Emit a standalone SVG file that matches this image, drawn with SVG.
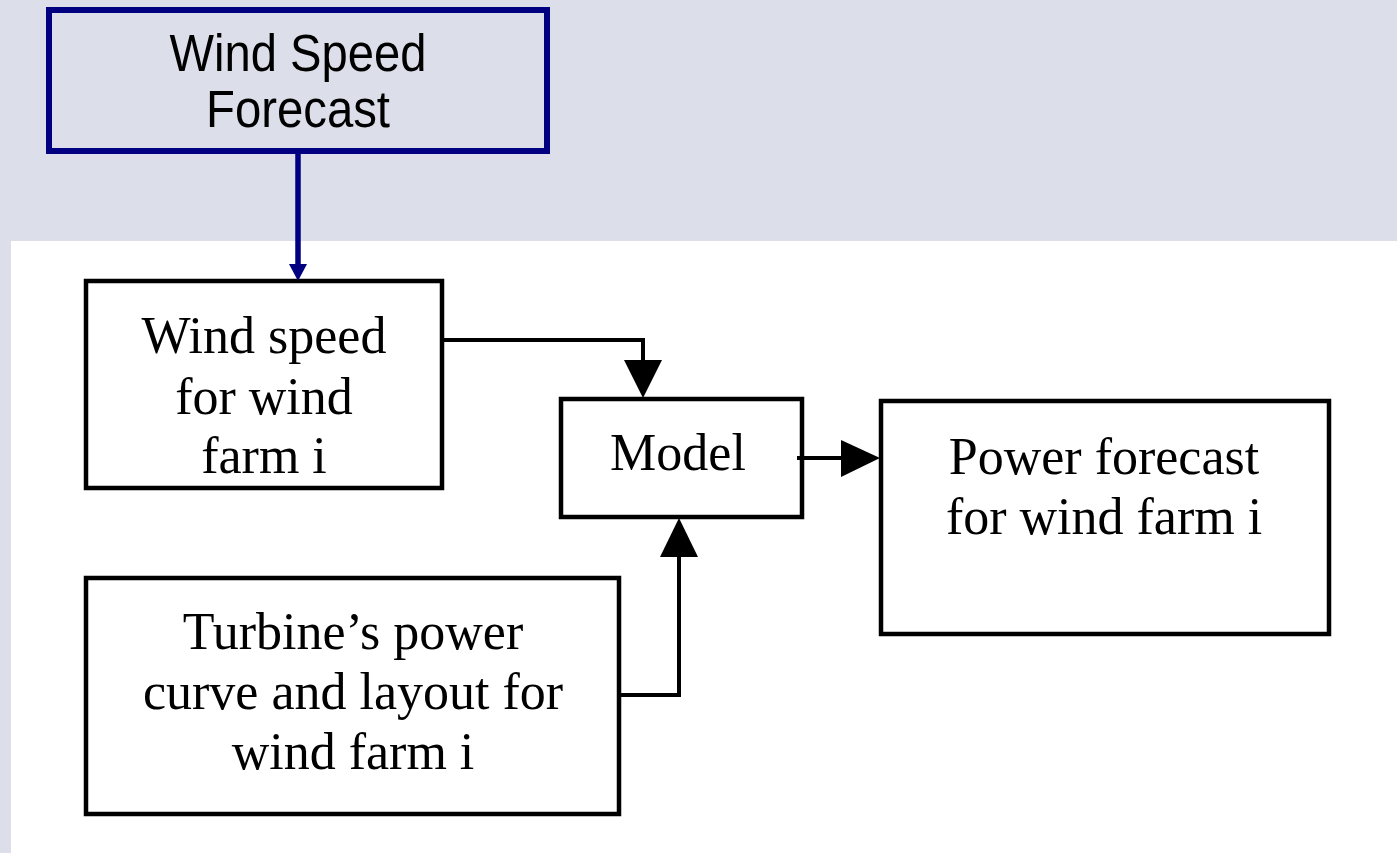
<svg xmlns="http://www.w3.org/2000/svg" width="1397" height="853" viewBox="0 0 1397 853">
<style>
.box{fill:none;stroke:#000;stroke-width:4.5}
.nbox{fill:none;stroke:#000080;stroke-width:6}
.t{font-family:"Liberation Serif","Times New Roman",serif;font-size:52px;fill:#000;text-anchor:middle}
.s{font-family:"Liberation Sans",Arial,sans-serif;font-size:51px;fill:#000;text-anchor:middle}
.c{fill:none;stroke:#000;stroke-width:4}
.nc{fill:none;stroke:#000080;stroke-width:5.5}
</style>
<rect x="0" y="0" width="1397" height="853" fill="#dcdfea"/>
<rect x="11" y="241" width="1386" height="612" fill="#ffffff"/>
<g id="wind-speed-forecast">
<rect class="nbox" x="49" y="10" width="498" height="141"/>
<text class="s" x="298" y="71" textLength="257" lengthAdjust="spacingAndGlyphs">Wind Speed</text>
<text class="s" x="298" y="127" textLength="184" lengthAdjust="spacingAndGlyphs">Forecast</text>
</g>
<g id="wind-speed-farm">
<rect class="box" x="86" y="281" width="356" height="207"/>
<text class="t" x="264" y="353">Wind speed</text>
<text class="t" x="264" y="414">for wind</text>
<text class="t" x="264" y="473">farm i</text>
</g>
<g id="model">
<rect class="box" x="561" y="399" width="241" height="118"/>
<text class="t" x="678" y="470">Model</text>
</g>
<g id="power-forecast">
<rect class="box" x="881" y="401" width="448" height="233"/>
<text class="t" x="1104" y="474">Power forecast</text>
<text class="t" x="1104" y="534">for wind farm i</text>
</g>
<g id="turbine">
<rect class="box" x="86" y="578" width="533" height="236"/>
<text class="t" x="353" y="649">Turbine’s power</text>
<text class="t" x="353" y="709">curve and layout for</text>
<text class="t" x="353" y="769">wind farm i</text>
</g>
<g id="connectors">
<line class="nc" x1="298" y1="153" x2="298" y2="265"/>
<polygon fill="#000080" points="289,264 307,264 298,281"/>
<polyline class="c" points="442,340 643,340 643,361"/>
<polygon fill="#000" points="624,360 662,360 643,398"/>
<line class="c" x1="797" y1="458" x2="842" y2="458"/>
<polygon fill="#000" points="841,440 841,477 880,458"/>
<polyline class="c" points="620,695 679,695 679,556"/>
<polygon fill="#000" points="660,557 698,557 679,518"/>
</g>
</svg>
